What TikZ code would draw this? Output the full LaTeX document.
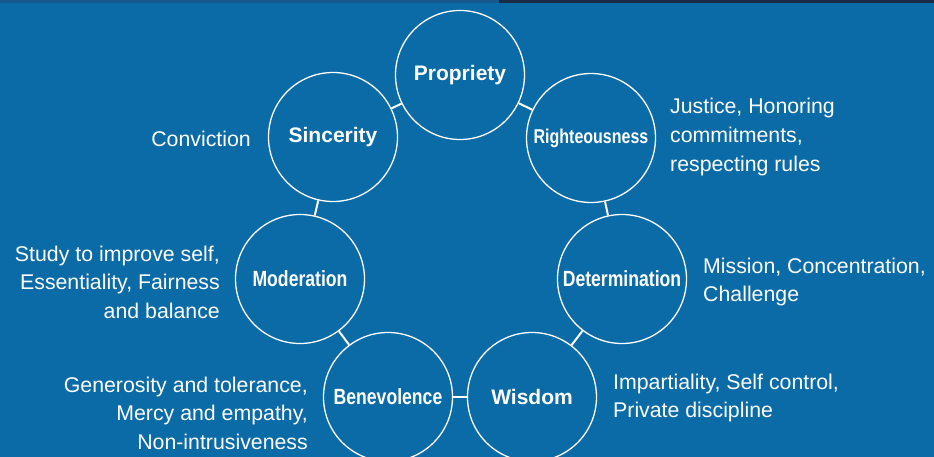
\documentclass[tikz,border=0pt]{standalone}
\usepackage{fontspec}
\setmainfont{Liberation Sans}
\newfontfamily\narrowbf[FakeStretch=0.8]{Liberation Sans}

\definecolor{bgblue}{HTML}{0B6BA7}
\definecolor{stripblue}{HTML}{17588F}
\definecolor{stripnavy}{HTML}{1B2B45}

\tikzset{
    virtue/.style={circle,draw=white,line width=1.3pt,minimum size=129pt,inner sep=0pt,
        text=white,font=\bfseries\fontsize{21}{24}\selectfont},
    narrow/.style={font=\narrowbf\bfseries\fontsize{22}{24}\selectfont},
    link/.style={draw=white,line width=2pt},
    trait/.style={text=white,inner sep=0pt,font=\fontsize{21.3}{28.6}\selectfont},
}

\begin{document}
\begin{tikzpicture}[x=1pt,y=-1pt]
        %% Background
        \fill[bgblue] (0,0) rectangle (934,457);
        \useasboundingbox (0,0) rectangle (934,457);
        \fill[stripblue] (0,0) rectangle (499,3);
        \fill[stripnavy] (499,0) rectangle (934,3);
        %% Ring of virtues
        \node[virtue]        (propriety)     at (460,75)  {Propriety};
        \node[virtue,narrow,font=\narrowbf\bfseries\fontsize{20}{24}\selectfont]
                             (righteousness) at (591,138) {Righteousness};
        \node[virtue,narrow] (determination) at (622,279) {Determination};
        \node[virtue]        (wisdom)        at (532,397) {Wisdom};
        \node[virtue,narrow] (benevolence)   at (388,397) {Benevolence};
        \node[virtue,narrow] (moderation)    at (300,279) {Moderation};
        \node[virtue]        (sincerity)     at (333,137) {Sincerity};
            \draw[link] (propriety)     -- (righteousness);
            \draw[link] (righteousness) -- (determination);
            \draw[link] (determination) -- (wisdom);
            \draw[link] (wisdom)        -- (benevolence);
            \draw[link] (benevolence)   -- (moderation);
            \draw[link] (moderation)    -- (sincerity);
            \draw[link] (sincerity)     -- (propriety);
        %% Traits beside each circle
        \node[trait,anchor=east]             (sincerityT)     at (251,139) {Conviction};
        \node[trait,anchor=west,align=left]  (righteousnessT) at (670,137) {Justice, Honoring\\commitments,\\respecting rules};
        \node[trait,anchor=west,align=left]  (determinationT) at (703,282) {Mission, Concentration,\\Challenge};
        \node[trait,anchor=west,align=left]  (wisdomT)        at (613,398) {Impartiality, Self control,\\Private discipline};
        \node[trait,anchor=east,align=right] (benevolenceT)   at (308,413) {Generosity and tolerance,\\Mercy and empathy,\\Non-intrusiveness};
        \node[trait,anchor=east,align=right] (moderationT)    at (220,282) {Study to improve self,\\Essentiality, Fairness\\and balance};
    \end{tikzpicture}
\end{document}
